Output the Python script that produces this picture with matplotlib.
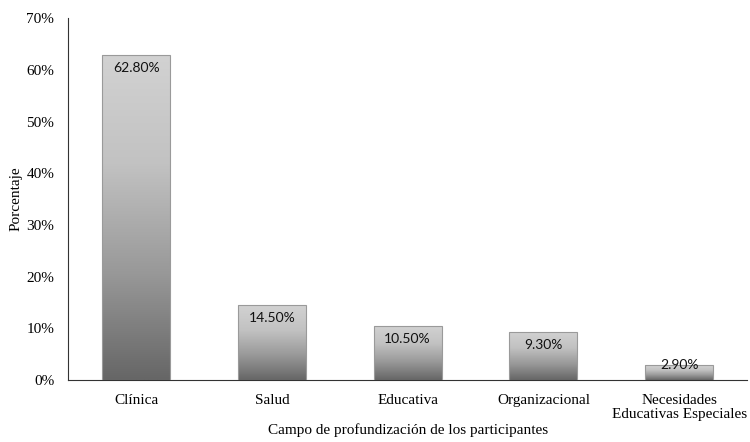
import numpy as np
import matplotlib.pyplot as plt
from matplotlib.colors import LinearSegmentedColormap

categorias = ['Clínica', 'Salud', 'Educativa', 'Organizacional', 'Necesidades\nEducativas Especiales']
porcentajes = [62.8, 14.5, 10.5, 9.3, 2.9]
etiquetas = ['62.80%', '14.50%', '10.50%', '9.30%', '2.90%']

fig = plt.figure(figsize=(7.5, 4.42), dpi=100)
ax = fig.add_axes([0.091, 0.14, 0.905, 0.819])

x = np.arange(len(categorias))
barras = ax.bar(x, porcentajes, width=0.5, color='none', edgecolor='#9a9a9a', linewidth=0.8, zorder=3)

# degradado gris: claro arriba, oscuro abajo
cmap = LinearSegmentedColormap.from_list('gris', ['#666666', '#999999', '#c2c2c2', '#d2d2d2'])
grad = np.linspace(0, 1, 256).reshape(-1, 1)
for b in barras:
    x0, w, h = b.get_x(), b.get_width(), b.get_height()
    im = ax.imshow(grad, cmap=cmap, origin='lower', aspect='auto',
                   extent=(x0, x0 + w, 0, h), zorder=2)
    im.set_clip_path(b)

for b, t in zip(barras, etiquetas):
    h = b.get_height()
    # barra muy baja: la etiqueta queda sobre el borde superior
    y_txt, va = (h - 1.3, 'top') if h > 5 else (h + 0.1, 'center')
    ax.text(b.get_x() + b.get_width() / 2, y_txt, t, ha='center', va=va,
            fontsize=10, family='Lato', color='#111111', zorder=4)

ax.set_xlim(-0.5, len(categorias) - 0.5)
ax.set_ylim(0, 70)
ax.set_yticks(np.arange(0, 71, 10))
ax.set_yticklabels([f'{v}%' for v in range(0, 71, 10)], family='Liberation Serif', fontsize=11)
ax.set_xticks(x)
ax.set_xticklabels(categorias, family='Liberation Serif', fontsize=11, linespacing=1.05)
ax.tick_params(axis='x', length=0, pad=10)
ax.tick_params(axis='y', length=0, pad=10)
ax.spines['top'].set_visible(False)
ax.spines['right'].set_visible(False)
ax.spines['left'].set_color('#333333')
ax.spines['bottom'].set_color('#333333')

ax.set_ylabel('Porcentaje', family='Liberation Serif', fontsize=11, labelpad=3)
ax.set_xlabel('Campo de profundización de los participantes', family='Liberation Serif',
              fontsize=11, labelpad=2)

fig.savefig('out.png', dpi=100)
